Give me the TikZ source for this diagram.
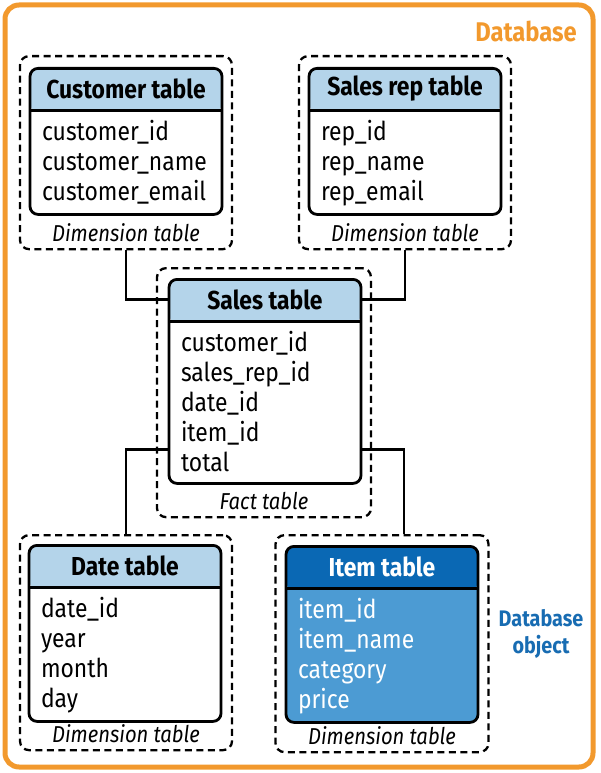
\documentclass[tikz,border=0pt]{standalone}
\usepackage{fontspec}
\setmainfont{Fira Sans}[FakeStretch=0.88]
\usetikzlibrary{positioning}

\definecolor{dbOrange}{RGB}{242,153,45}
\definecolor{headBlue}{RGB}{180,212,234}
\definecolor{itemDark}{RGB}{10,104,180}
\definecolor{itemLight}{RGB}{76,155,211}
\definecolor{objBlue}{RGB}{24,108,178}

\tikzset{
  tablebox/.style={draw, line width=2.8pt, rounded corners=8pt, fill=white,
    minimum width=192pt, anchor=north, inner sep=0pt,
    path picture={\fill[#1] (path picture bounding box.north west)
      rectangle ([yshift=-43pt]path picture bounding box.north east);}},
  tablehead/.style={minimum width=192pt, minimum height=43pt, anchor=north,
    inner sep=0pt, font=\fontsize{26}{28}\selectfont\bfseries},
  headrule/.style={line width=2.8pt},
  rows/.style={anchor=north west, align=left, inner sep=0pt,
    font=\fontsize{26}{30}\selectfont},
  framebox/.style={draw, line width=2.3pt, dash pattern=on 7pt off 4.5pt,
    rounded corners=9pt, anchor=north, inner sep=0pt},
  framelabel/.style={anchor=base, inner sep=0pt,
    font=\fontsize{23}{24}\selectfont\itshape},
  link/.style={line width=2.8pt},
}

\begin{document}
\begin{tikzpicture}[x=1pt,y=-1pt]
  \useasboundingbox (0,0) rectangle (600,773);
  % database border
  \draw[dbOrange, line width=5pt, rounded corners=14pt] (5,5) rectangle (593,767);
  \node[anchor=base east, inner sep=0pt, text=dbOrange,
    font=\fontsize{27}{30}\selectfont\bfseries] (dbname) at (577,42) {Database};

  % customer table
  \node[framebox, minimum width=212pt, minimum height=193pt] (custframe) at (126,55) {};
  \node[tablebox=headBlue, minimum height=146pt] (cust) at (126,67) {};
  \node[tablehead] (custhead) at (cust.north) {Customer table};
  \draw[headrule] (custhead.south west) -- (custhead.south east);
  \node[rows] (custrows) at ([xshift=12pt,yshift=-9.5pt]custhead.south west)
    {customer\_id\\customer\_name\\customer\_email};
  \node[framelabel] (custlabel) at ([yshift=8.5pt]custframe.south) {Dimension table};

  % sales rep table
  \node[framebox, minimum width=212pt, minimum height=193pt] (repframe) at (405,55) {};
  \node[tablebox=headBlue, minimum height=146pt] (rep) at (405,67) {};
  \node[tablehead] (rephead) at (rep.north) {Sales rep table};
  \draw[headrule] (rephead.south west) -- (rephead.south east);
  \node[rows] (reprows) at ([xshift=12pt,yshift=-9.5pt]rephead.south west)
    {rep\_id\\rep\_name\\rep\_email};
  \node[framelabel] (replabel) at ([yshift=8.5pt]repframe.south) {Dimension table};

  % sales table
  \node[framebox, minimum width=214pt, minimum height=249pt] (salesframe) at (264,267) {};
  \node[tablebox=headBlue, minimum height=204pt] (sales) at (265,278) {};
  \node[tablehead] (saleshead) at (sales.north) {Sales table};
  \draw[headrule] (saleshead.south west) -- (saleshead.south east);
  \node[rows] (salesrows) at ([xshift=12pt,yshift=-9.5pt]saleshead.south west)
    {customer\_id\\sales\_rep\_id\\date\_id\\item\_id\\total};
  \node[framelabel] (saleslabel) at ([yshift=8.5pt]salesframe.south) {Fact table};

  % date table
  \node[framebox, minimum width=212pt, minimum height=215pt] (dateframe) at (126,534) {};
  \node[tablebox=headBlue, minimum height=176pt] (date) at (125,544) {};
  \node[tablehead] (datehead) at (date.north) {Date table};
  \draw[headrule] (datehead.south west) -- (datehead.south east);
  \node[rows] (daterows) at ([xshift=12pt,yshift=-9.5pt]datehead.south west)
    {date\_id\\year\\month\\day};
  \node[framelabel] (datelabel) at ([yshift=8.5pt]dateframe.south) {Dimension table};

  % item table
  \node[framebox, minimum width=213pt, minimum height=217pt] (itemframe) at (382,534) {};
  \node[tablebox=itemDark, fill=itemLight, minimum height=176pt] (item) at (382,545) {};
  \node[tablehead, text=white] (itemhead) at (item.north) {Item table};
  \draw[headrule] (itemhead.south west) -- (itemhead.south east);
  \node[rows, text=white] (itemrows) at ([xshift=12pt,yshift=-9.5pt]itemhead.south west)
    {item\_id\\item\_name\\category\\price};
  \node[framelabel] (itemlabel) at ([yshift=8.5pt]itemframe.south) {Dimension table};

  \node[align=center, inner sep=0pt, text=objBlue,
    font=\fontsize{22.5}{27}\selectfont\bfseries] (dbobj) at (541,634) {Database\\object};

  % links
  \draw[link] (custframe.south) |- (saleshead.west);
  \draw[link] (saleshead.east) -| (repframe.south);
  \draw[link] ([yshift=35pt]sales.south west) -| (dateframe.north);
  \draw[link] ([yshift=35pt]sales.south east) -| ([xshift=22pt]itemframe.north);
\end{tikzpicture}
\end{document}
